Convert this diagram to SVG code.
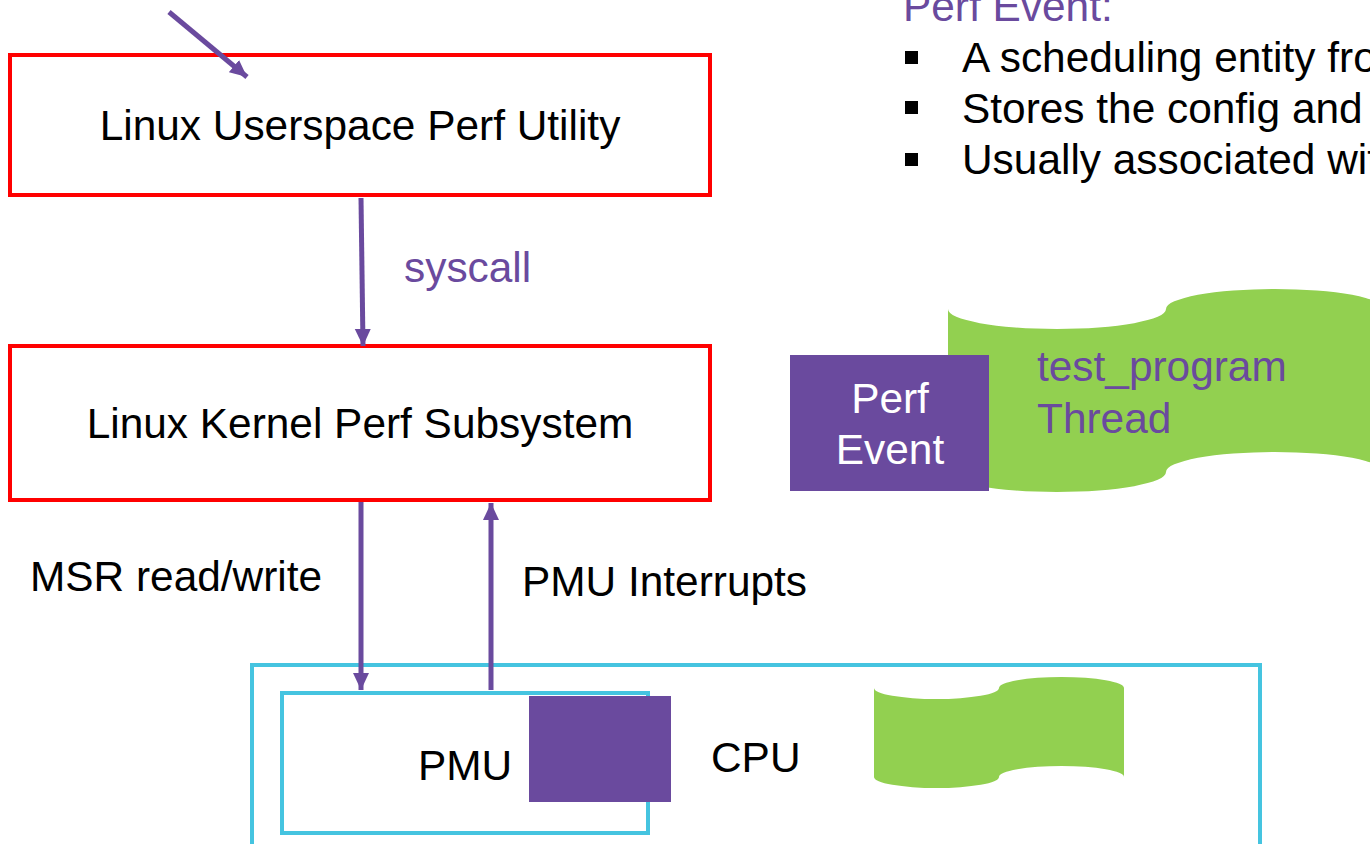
<svg xmlns="http://www.w3.org/2000/svg" width="1370" height="844" viewBox="0 0 1370 844">
<style>
text{font-family:"Liberation Sans",Arial,sans-serif;font-size:42.4px;fill:#000}
.pu{fill:#6A4A9E}
.wh{fill:#fff}
.red{fill:#fff;stroke:#FF0000;stroke-width:4}
.cy{fill:none;stroke:#45C4E0;stroke-width:4}
.conn{stroke:#6A4A9E;stroke-width:5;fill:none}
.green{fill:#92D050}
</style>
<defs>
<marker id="ah" markerUnits="userSpaceOnUse" markerWidth="18" markerHeight="18" refX="17" refY="9" orient="auto">
<path d="M0,1 L17,9 L0,17 z" fill="#6A4A9E"/>
</marker>
</defs>
<rect width="1370" height="844" fill="#fff"/>

<g id="legend">
<text x="903" y="21" class="pu">Perf Event:</text>
<rect x="905" y="51" width="13" height="13" fill="#000"/>
<rect x="905" y="101" width="13" height="13" fill="#000"/>
<rect x="905" y="153" width="13" height="13" fill="#000"/>
<text x="962" y="72">A scheduling entity from</text>
<text x="962" y="123">Stores the config and</text>
<text x="962" y="174">Usually associated with</text>
</g>

<g id="userspace">
<rect x="10" y="55" width="700" height="140" class="red"/>
<text x="360" y="140" text-anchor="middle">Linux Userspace Perf Utility</text>
</g>

<g id="kernel">
<rect x="10" y="346" width="700" height="154" class="red"/>
<text x="360" y="438" text-anchor="middle">Linux Kernel Perf Subsystem</text>
</g>

<g id="thread">
<path class="green" d="M948,309 A109,20 0 0,0 1166,309 A109,20 0 0,1 1384,309 L1384,472 A109,20 0 0,0 1166,472 A109,20 0 0,1 948,472 Z"/>
<text x="1037" y="381" class="pu">test_program</text>
<text x="1037" y="433" class="pu">Thread</text>
</g>

<g id="perfevent">
<rect x="790" y="355" width="199" height="136" fill="#6A4A9E"/>
<text x="890" y="413" text-anchor="middle" class="wh">Perf</text>
<text x="890" y="464" text-anchor="middle" class="wh">Event</text>
</g>

<g id="cpu">
<rect x="252" y="665" width="1008" height="200" class="cy"/>
<text x="711" y="772">CPU</text>
<path class="green" d="M874,688 A62.5,11 0 0,0 999,688 A62.5,11 0 0,1 1124,688 L1124,777 A62.5,11 0 0,0 999,777 A62.5,11 0 0,1 874,777 Z"/>
</g>

<g id="pmu">
<rect x="282" y="693" width="366" height="140" class="cy"/>
<text x="418" y="780">PMU</text>
<rect x="529" y="696" width="142" height="106" fill="#6A4A9E"/>
</g>

<g id="connectors">
<line x1="169" y1="12" x2="247" y2="77" class="conn" marker-end="url(#ah)"/>
<line x1="361" y1="198" x2="363" y2="346" class="conn" marker-end="url(#ah)"/>
<text x="404" y="282" class="pu">syscall</text>
<line x1="361" y1="502" x2="361" y2="690" class="conn" marker-end="url(#ah)"/>
<text x="30" y="591">MSR read/write</text>
<line x1="491" y1="690" x2="491" y2="503" class="conn" marker-end="url(#ah)"/>
<text x="522" y="596">PMU Interrupts</text>
</g>
</svg>
